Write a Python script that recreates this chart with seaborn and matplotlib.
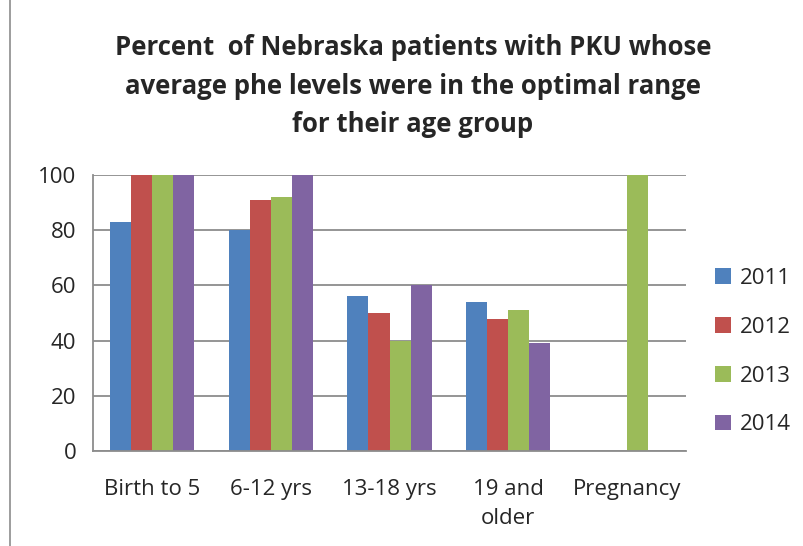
import numpy as np
import pandas as pd
import matplotlib
matplotlib.use("Agg")
import matplotlib.pyplot as plt
import seaborn as sns
from matplotlib.patches import Rectangle, Patch

categories = ["Birth to 5", "6-12 yrs", "13-18 yrs", "19 and\nolder", "Pregnancy"]
years = ["2011", "2012", "2013", "2014"]
v2011 = [83, 80, 56, 54, np.nan]
v2012 = [100, 91, 50, 48, np.nan]
v2013 = [100, 92, 40, 51, 100]
v2014 = [100, 100, 60, 39, np.nan]
colors = ["#4F81BD", "#C0504D", "#9BBB59", "#8064A2"]
y_ticks = [0, 20, 40, 60, 80, 100]

rows = []
for yr, vals in zip(years, [v2011, v2012, v2013, v2014]):
    for c, v in zip(categories, vals):
        rows.append({"cat": c, "year": yr, "val": v})
df = pd.DataFrame(rows)

sns.set_style("white")
plt.rcParams["font.family"] = ["Open Sans", "DejaVu Sans"]

FS = 16
fig = plt.figure(figsize=(8.04, 5.46), dpi=100)
ax = fig.add_axes([93/804, 95/546, (686-93)/804, (451-175)/546])

sns.barplot(data=df, x="cat", y="val", hue="year", order=categories,
            hue_order=years, palette=colors, width=0.71, saturation=1,
            edgecolor="none", linewidth=0, ax=ax, legend=False)

ax.set_ylim(0, 100)
ax.set_xlim(-0.5, len(categories) - 0.5)
ax.set_yticks(y_ticks)
ax.set_yticklabels([str(t) for t in y_ticks], fontsize=FS)
ax.set_xlabel("")
ax.set_ylabel("")
ax.set_xticks(range(len(categories)))
ax.set_xticklabels(categories, fontsize=FS, linespacing=1.5)
ax.tick_params(axis="x", which="major", length=0, pad=20)
ax.set_xticks(np.arange(-0.5, len(categories), 1.0), minor=True)
ax.tick_params(axis="x", which="minor", length=6, width=1.2, color="#8c8c8c", direction="out")
ax.tick_params(axis="y", length=6, width=1.2, color="#8c8c8c", direction="out", pad=6)

ax.grid(axis="y", color="#8c8c8c", linewidth=1.3)
ax.set_axisbelow(True)
for s in ["top", "right"]:
    ax.spines[s].set_visible(False)
for s in ["left", "bottom"]:
    ax.spines[s].set_color("#8c8c8c")
    ax.spines[s].set_linewidth(1.3)

handles = [Patch(facecolor=c, edgecolor="none") for c in colors]
fig.legend(handles, years, loc="upper left", bbox_to_anchor=(715/804, 1 - 268/546),
           frameon=False, fontsize=FS, handlelength=0.7, handleheight=0.7,
           handletextpad=0.4, labelspacing=1.25, borderaxespad=0, borderpad=0)

fig.text(413/804, 1 - 86/546,
         "Percent  of Nebraska patients with PKU whose\naverage phe levels were in the optimal range\nfor their age group",
         ha="center", va="center", fontsize=18.5, fontweight="bold", linespacing=1.55)

fig.patches.append(Rectangle((10/804, -0.01), 1.2, 1.2, transform=fig.transFigure,
                             fill=False, edgecolor="#8c8c8c", linewidth=1.2))

fig.savefig("out.png", dpi=100)
